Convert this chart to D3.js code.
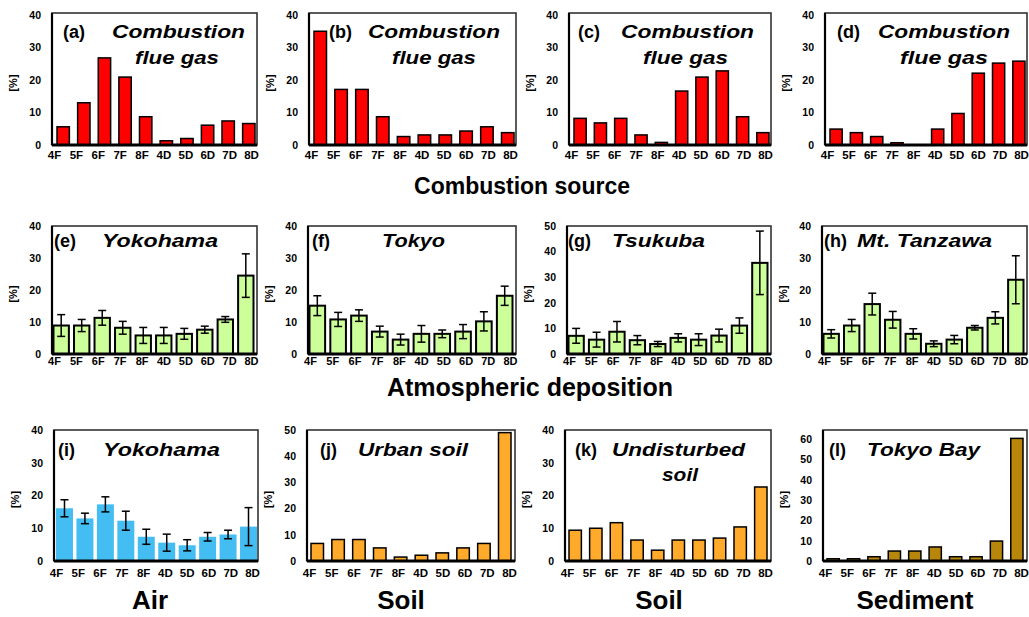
<!DOCTYPE html>
<html><head><meta charset="utf-8">
<script src="https://cdn.jsdelivr.net/npm/d3@7"></script>
<style>
body{margin:0;background:#fff}
svg{display:block}
text{font-family:"Liberation Sans",Arial,Helvetica,sans-serif}
</style>
</head><body>
<svg id="c" width="1029" height="617"></svg>
<script>
// ---------------- DATA ----------------
const categories = ["4F","5F","6F","7F","8F","4D","5D","6D","7D","8D"];

const flueA = [5.6, 13.0, 26.8, 20.9, 8.7, 1.3, 2.0, 6.1, 7.4, 6.6];
const flueB = [35.0, 17.1, 17.1, 8.7, 2.6, 3.1, 3.1, 4.3, 5.6, 3.8];
const flueC = [8.2, 6.8, 8.2, 3.1, 0.8, 16.6, 20.9, 22.8, 8.7, 3.8];
const flueD = [4.9, 3.8, 2.6, 0.7, 0.0, 4.9, 9.7, 22.1, 25.2, 25.8];

const depYokohama    = [8.9, 8.9, 11.3, 8.2, 5.8, 5.8, 6.3, 7.6, 10.8, 24.5];
const depYokohamaErr = [3.4, 1.9, 2.3, 2.0, 2.5, 2.5, 1.7, 1.1, 0.9, 6.8];
const depTokyo       = [15.1, 10.8, 12.0, 7.0, 4.5, 6.3, 6.3, 7.0, 10.2, 18.2];
const depTokyoErr    = [3.1, 2.2, 1.8, 1.7, 1.7, 2.6, 1.2, 2.2, 3.0, 3.0];
const depTsukuba     = [7.1, 5.6, 8.7, 5.4, 3.9, 6.3, 5.6, 7.2, 11.1, 35.6];
const depTsukubaErr  = [2.9, 2.9, 4.0, 1.8, 1.0, 1.6, 2.3, 2.5, 3.0, 12.4];
const depTanzawa     = [6.3, 8.9, 15.6, 10.7, 6.3, 3.2, 4.5, 8.2, 11.3, 23.2];
const depTanzawaErr  = [1.3, 1.9, 3.4, 2.6, 1.6, 0.9, 1.3, 0.7, 1.9, 7.5];

const airYokohama    = [16.1, 13.0, 17.3, 12.3, 7.4, 5.6, 4.8, 7.4, 8.1, 10.5];
const airYokohamaErr = [2.6, 1.6, 2.3, 2.9, 2.3, 2.6, 1.7, 1.3, 1.3, 5.8];
const urbanSoil       = [6.7, 8.2, 8.2, 5.0, 1.5, 2.2, 3.1, 5.0, 6.7, 49.0];
const undisturbedSoil = [9.4, 10.0, 11.7, 6.4, 3.3, 6.4, 6.4, 7.0, 10.4, 22.6];
const tokyoBay        = [1.1, 1.1, 2.1, 4.9, 4.9, 6.9, 2.1, 2.1, 9.8, 60.3];

const ticks40 = [0, 10, 20, 30, 40];
const ticks50 = [0, 10, 20, 30, 40, 50];
const ticks60 = [0, 10, 20, 30, 40, 50, 60];

const rowTitles = ["Combustion source", "Atmospheric deposition"];
const bottomLabels = ["Air", "Soil", "Soil", "Sediment"];
const yLabel = "[%]";

// ---------------- LAYOUT ----------------
const svg = d3.select("#c");
const R1 = {top:13, bottom:145, topPx:15, labY:160, labSize:11.5, tickSize:10.5, stroke:1.5, bl:5, br:2, pi:0.4};
const R2 = {top:226, bottom:354, topPx:226, labY:366, labSize:11, tickSize:10.5, stroke:2, bl:1.5, br:3.5, pi:0.25};
const R3 = {top:430, bottom:561, topPx:430, labY:578, labSize:11.5, tickSize:10.5, stroke:1.5, bl:4, br:4, pi:0.4};

const panels = [
  {row:R1, x0:52,  x1:257,  vals:flueA, color:"#ff0000", max:40, ticks:ticks40, letter:"(a)", lx:11,
   lines:[{t:"Combustion", x:60, len:133, y:38},{t:"flue gas", x:83, len:84, y:64}]},
  {row:R1, x0:309, x1:516,  vals:flueB, color:"#ff0000", max:40, ticks:ticks40, letter:"(b)", lx:20,
   lines:[{t:"Combustion", x:59, len:132, y:38},{t:"flue gas", x:83, len:84, y:64}]},
  {row:R1, x0:569, x1:771,  vals:flueC, color:"#ff0000", max:40, ticks:ticks40, letter:"(c)", lx:9,
   lines:[{t:"Combustion", x:52, len:133, y:38},{t:"flue gas", x:74, len:85, y:64}]},
  {row:R1, x0:825, x1:1027, vals:flueD, color:"#ff0000", max:40, ticks:ticks40, letter:"(d)", lx:12,
   lines:[{t:"Combustion", x:53, len:132, y:38},{t:"flue gas", x:75, len:88, y:64}]},

  {row:R2, x0:52,  x1:257,  vals:depYokohama, err:depYokohamaErr, color:"#ccff99", max:40, ticks:ticks40, letter:"(e)", lx:2,
   lines:[{t:"Yokohama", x:50, len:116, y:247}]},
  {row:R2, x0:308, x1:516,  vals:depTokyo, err:depTokyoErr, color:"#ccff99", max:40, ticks:ticks40, letter:"(f)", lx:4,
   lines:[{t:"Tokyo", x:74, len:63, y:247}]},
  {row:R2, x0:567, x1:771,  vals:depTsukuba, err:depTsukubaErr, color:"#ccff99", max:50, ticks:ticks50, letter:"(g)", lx:1,
   lines:[{t:"Tsukuba", x:45, len:93, y:247}]},
  {row:R2, x0:822, x1:1027, vals:depTanzawa, err:depTanzawaErr, color:"#ccff99", max:40, ticks:ticks40, letter:"(h)", lx:2,
   lines:[{t:"Mt. Tanzawa", x:35, len:135, y:247}]},

  {row:Object.assign({}, R3, {bl:2, br:1, pi:0.17, stroke:0}), x0:54, x1:258, vals:airYokohama, err:airYokohamaErr,
   color:"#44bdf2", max:40, ticks:ticks40, letter:"(i)", lx:4,
   lines:[{t:"Yokohama", x:49, len:117, y:456}]},
  {row:R3, x0:307, x1:515,  vals:urbanSoil, color:"#ffaa2b", max:50, ticks:ticks50, letter:"(j)", lx:13,
   lines:[{t:"Urban soil", x:51, len:110, y:456}]},
  {row:R3, x0:565, x1:771,  vals:undisturbedSoil, color:"#ffaa2b", max:40, ticks:ticks40, letter:"(k)", lx:10,
   lines:[{t:"Undisturbed", x:47, len:133, y:456},{t:"soil", x:97, len:36, y:481}]},
  {row:Object.assign({}, R3, {topPx:439}), x0:823, x1:1027, vals:tokyoBay, color:"#b8860b", max:60, ticks:ticks60, letter:"(l)", lx:6,
   lines:[{t:"Tokyo Bay", x:44, len:113, y:456}]}
];

function drawPanel(p) {
  const r = p.row;
  const g = svg.append("g");
  const x = d3.scaleBand().domain(categories)
    .range([p.x0 + r.bl, p.x1 - r.br]).paddingInner(r.pi).paddingOuter(0);
  const xl = d3.scalePoint().domain(categories).range([p.x0 + 2, p.x1 - 6]);
  const y = d3.scaleLinear().domain([0, p.max]).range([r.bottom, r.topPx]);

  const data = p.vals.map((v, i) => ({c: categories[i], v, e: p.err ? p.err[i] : null}));

  // bars
  g.selectAll("rect.bar").data(data.filter(d => d.v > 0)).join("rect")
    .attr("class", "bar")
    .attr("x", d => x(d.c)).attr("width", x.bandwidth())
    .attr("y", d => y(d.v)).attr("height", d => r.bottom - y(d.v))
    .attr("fill", p.color)
    .attr("stroke", r.stroke ? "#000" : "none")
    .attr("stroke-width", r.stroke);

  // error bars
  if (p.err) {
    const eb = g.selectAll("g.err").data(data).join("g").attr("class", "err")
      .attr("stroke", "#000").attr("stroke-width", 1.5);
    const cx = d => x(d.c) + x.bandwidth() / 2;
    eb.append("line").attr("x1", cx).attr("x2", cx)
      .attr("y1", d => y(d.v - d.e)).attr("y2", d => y(d.v + d.e));
    eb.append("line").attr("x1", d => cx(d) - 4).attr("x2", d => cx(d) + 4)
      .attr("y1", d => y(d.v + d.e)).attr("y2", d => y(d.v + d.e));
    eb.append("line").attr("x1", d => cx(d) - 4).attr("x2", d => cx(d) + 4)
      .attr("y1", d => y(d.v - d.e)).attr("y2", d => y(d.v - d.e));
  }

  // frame
  g.append("rect").attr("x", p.x0).attr("y", r.top)
    .attr("width", p.x1 - p.x0).attr("height", r.bottom - r.top)
    .attr("fill", "none").attr("stroke", "#333").attr("stroke-width", 1.6);
  g.append("line").attr("x1", p.x0).attr("x2", p.x1).attr("y1", r.bottom).attr("y2", r.bottom)
    .attr("stroke", "#000").attr("stroke-width", 3);
  g.append("line").attr("x1", p.x0).attr("x2", p.x0).attr("y1", r.top).attr("y2", r.bottom)
    .attr("stroke", "#000").attr("stroke-width", 2.2);

  // y axis
  const ya = g.append("g").attr("transform", `translate(${p.x0},0)`)
    .call(d3.axisLeft(y).tickValues(p.ticks).tickSize(0).tickPadding(11).tickFormat(d3.format("d")));
  ya.select(".domain").remove();
  ya.selectAll("text").attr("font-size", r.tickSize).attr("font-weight", "bold")
    .attr("font-family", '"Liberation Sans", Arial, sans-serif').attr("fill", "#000");

  // x axis labels
  const xa = g.append("g").attr("transform", `translate(0,${r.labY - 9})`)
    .call(d3.axisBottom(xl).tickSize(0).tickPadding(0));
  xa.select(".domain").remove();
  xa.selectAll("text").attr("font-size", r.labSize).attr("font-weight", "bold")
    .attr("font-family", '"Liberation Sans", Arial, sans-serif').attr("fill", "#000")
    .attr("dy", "0.71em");

  // y label
  g.append("text")
    .attr("transform", `translate(${p.x0 - 35},${(r.top + r.bottom) / 2 + 4}) rotate(-90)`)
    .attr("text-anchor", "middle").attr("font-size", 11).attr("font-weight", "bold")
    .text(yLabel);

  // titles
  g.append("text").attr("x", p.x0 + p.lx).attr("y", p.lines[0].y)
    .attr("font-size", 18).attr("font-weight", "bold").text(p.letter);
  p.lines.forEach(l => {
    g.append("text").attr("x", p.x0 + l.x).attr("y", l.y)
      .attr("font-size", 19).attr("font-weight", "bold").attr("font-style", "italic")
      .attr("textLength", l.len).attr("lengthAdjust", "spacingAndGlyphs")
      .text(l.t);
  });
}

panels.forEach(drawPanel);

// row titles
svg.append("text").attr("x", 522).attr("y", 194).attr("text-anchor", "middle")
  .attr("font-size", 23).attr("font-weight", "bold").text(rowTitles[0]);
svg.append("text").attr("x", 530).attr("y", 396).attr("text-anchor", "middle")
  .attr("font-size", 25).attr("font-weight", "bold").text(rowTitles[1]);

// bottom labels
const bottomX = [150, 401, 659, 915];
bottomLabels.forEach((t, i) => {
  svg.append("text").attr("x", bottomX[i]).attr("y", 609).attr("text-anchor", "middle")
    .attr("font-size", 26).attr("font-weight", "bold").text(t);
});
</script>
</body></html>
